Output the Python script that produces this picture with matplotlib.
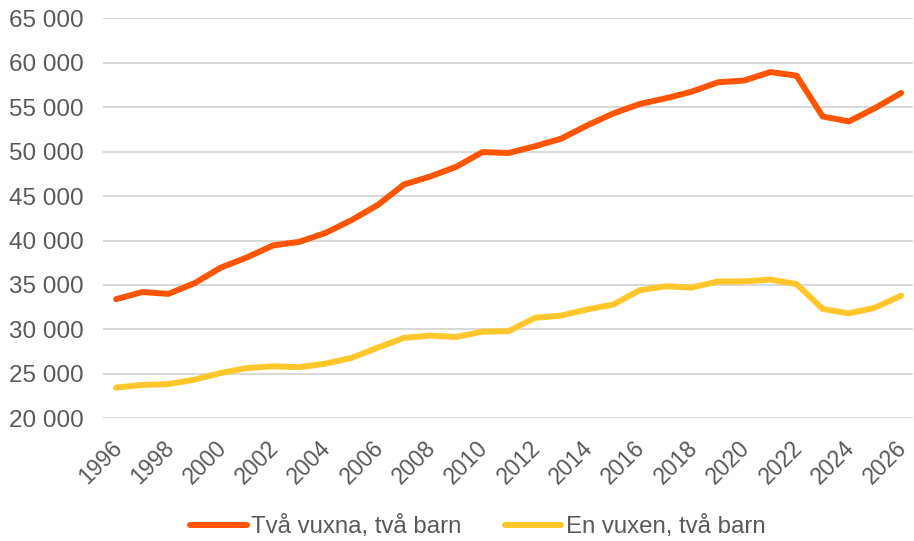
import matplotlib.pyplot as plt
import matplotlib.transforms as mtransforms
from matplotlib.ticker import FuncFormatter

plt.rcParams['font.family'] = ['Liberation Sans', 'DejaVu Sans']

years = list(range(1996, 2027))
tva_vuxna = [33400, 34200, 34000, 35200, 36950, 38100, 39450, 39850, 40850, 42300,
             44000, 46300, 47200, 48300, 49950, 49850, 50600, 51450, 52950, 54300,
             55350, 56000, 56750, 57800, 58000, 58950, 58550, 53950, 53400, 54900,
             56600]
en_vuxen = [23450, 23750, 23850, 24350, 25100, 25650, 25850, 25750, 26150, 26800,
            27950, 29050, 29300, 29150, 29750, 29800, 31300, 31550, 32250, 32800,
            34400, 34850, 34700, 35400, 35400, 35600, 35100, 32300, 31800, 32450,
            33800]
labels = ['Två vuxna, två barn', 'En vuxen, två barn']
colors = ['#FF5500', '#FFC72C']
y_ticks = list(range(20000, 65001, 5000))
x_ticks = list(range(1996, 2027, 2))

fig = plt.figure(figsize=(9.14, 5.41), dpi=100)
ax = fig.add_axes([103 / 914, 1 - 418.3 / 541, 810 / 914, 400 / 541])

ax.plot(years, tva_vuxna, color=colors[0], lw=4.3, label=labels[0], solid_capstyle='round')
ax.plot(years, en_vuxen, color=colors[1], lw=4.3, label=labels[1], solid_capstyle='round')

ax.set_ylim(20000, 65000)
ax.set_xlim(1995.5, 2026.45)
ax.set_yticks(y_ticks)
ax.set_xticks(x_ticks)
ax.yaxis.set_major_formatter(FuncFormatter(lambda v, p: f'{int(v):,}'.replace(',', ' ')))
ax.grid(axis='y', color='#d9d9d9', lw=1.5)
ax.set_axisbelow(True)
for s in ax.spines.values():
    s.set_visible(False)
ax.tick_params(axis='y', length=0, labelsize=17.5, labelcolor='#595959', pad=14)
ax.tick_params(axis='x', length=0, labelsize=16.5, labelcolor='#595959', pad=13)
shift = mtransforms.ScaledTranslation(-6 / 100, 0, fig.dpi_scale_trans)
for lbl in ax.get_xticklabels():
    lbl.set_rotation(45)
    lbl.set_ha('right')
    lbl.set_va('top')
    lbl.set_rotation_mode('anchor')
    lbl.set_transform(lbl.get_transform() + shift)

fig.legend(loc='center', bbox_to_anchor=(478 / 914, 1 - 527 / 541), ncol=2, frameon=False,
           fontsize=17.3, labelcolor='#595959', handlelength=2.35, handletextpad=0.2,
           columnspacing=1.8)

fig.savefig('out.png', dpi=100)
